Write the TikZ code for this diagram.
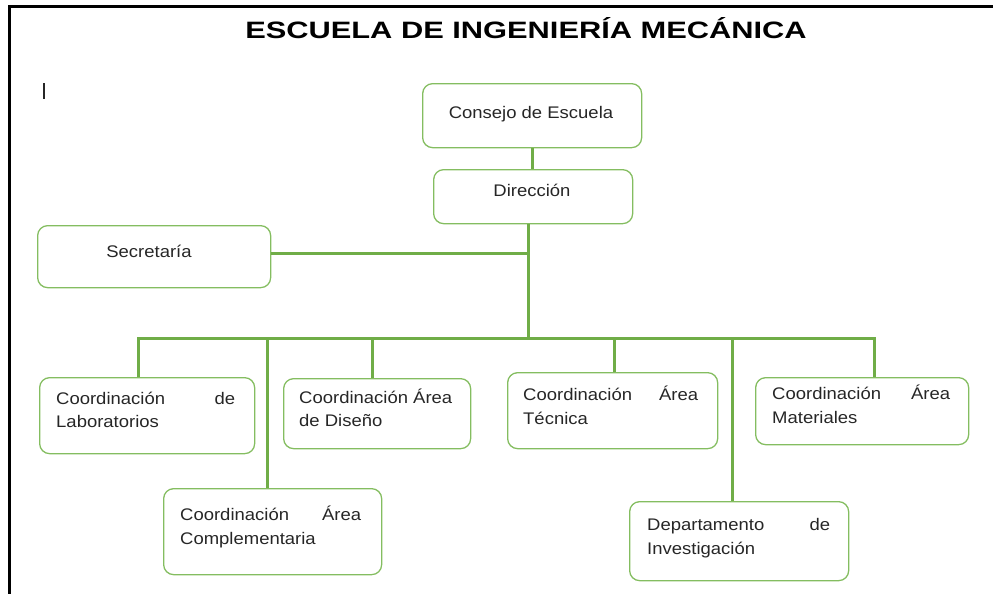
\documentclass[tikz,border=0pt]{standalone}
\usepackage{fontspec}
\setmainfont{Liberation Sans}
\newfontfamily\bodyfont[FakeStretch=1.1]{Liberation Sans}
\newfontfamily\titlefont[FakeStretch=1.3]{Liberation Sans}
\definecolor{linegreen}{HTML}{70AD47}
\definecolor{boxgreen}{HTML}{84BD60}
\definecolor{textgray}{HTML}{262626}
\begin{document}
\begin{tikzpicture}[x=1pt,y=-1pt,
  box/.style={draw=boxgreen, line width=1.3pt, rounded corners=10pt, inner sep=0pt, anchor=north west},
  txt/.style={font=\bodyfont\fontsize{16.8}{20}\selectfont, text=textgray, inner sep=0pt},
  conn/.style={draw=linegreen, line width=3pt, line join=miter}]
\useasboundingbox (0,0) rectangle (993,594);
% frame
\draw[black, line width=3pt] (9,594) -- (9,7) -- (993,7);
% title
\node[font=\titlefont\bfseries\fontsize{23.7}{28}\selectfont, text=black, anchor=base, inner sep=0pt] (title) at (526,39) {ESCUELA DE INGENIERÍA MECÁNICA};
% cursor
\draw[textgray, line width=1.2pt] (44,83) -- (44,99);
% boxes
\node[box, minimum width=219pt, minimum height=64pt] (consejo) at (422,83) {};
\node[box, minimum width=199pt, minimum height=54pt] (direccion) at (433,169) {};
\node[box, minimum width=233pt, minimum height=62pt] (secretaria) at (37,225) {};
\node[box, minimum width=215pt, minimum height=76pt] (lab) at (39,377) {};
\node[box, minimum width=187pt, minimum height=70pt] (diseno) at (283,378) {};
\node[box, minimum width=218pt, minimum height=86pt] (compl) at (163,488) {};
\node[box, minimum width=210pt, minimum height=76pt] (tecnica) at (507,372) {};
\node[box, minimum width=219pt, minimum height=79pt] (depto) at (629,501) {};
\node[box, minimum width=213pt, minimum height=67pt] (mat) at (755,377) {};
% texts
\node[txt, anchor=base] (tconsejo) at (531,118) {Consejo de Escuela};
\node[txt, anchor=base] (tdireccion) at (532,196) {Dirección};
\node[txt, anchor=base] (tsecretaria) at (149,257) {Secretaría};
\node[txt, anchor=base west] (tlab1) at (56,404) {\makebox[179pt][l]{Coordinación\hfill de}};
\node[txt, anchor=base west] (tlab2) at (56,427) {Laboratorios};
\node[txt, anchor=base west] (tdis1) at (299,403) {Coordinación Área};
\node[txt, anchor=base west] (tdis2) at (299,426) {de Diseño};
\node[txt, anchor=base west] (tcom1) at (180,520) {\makebox[181pt][l]{Coordinación\hfill Área}};
\node[txt, anchor=base west] (tcom2) at (180,544) {Complementaria};
\node[txt, anchor=base west] (ttec1) at (523,400) {\makebox[175pt][l]{Coordinación\hfill Área}};
\node[txt, anchor=base west] (ttec2) at (523,424) {Técnica};
\node[txt, anchor=base west] (tdep1) at (647,530) {\makebox[183pt][l]{Departamento\hfill de}};
\node[txt, anchor=base west] (tdep2) at (647,554) {Investigación};
\node[txt, anchor=base west] (tmat1) at (772,399) {\makebox[178pt][l]{Coordinación\hfill Área}};
\node[txt, anchor=base west] (tmat2) at (772,423) {Materiales};
% junction coordinates
\coordinate (trunk) at (528,253);
\coordinate (bus) at (528,338);
\coordinate (busL) at (138,338);
\coordinate (b2) at (267,338);
\coordinate (b3) at (372,338);
\coordinate (b4) at (614,338);
\coordinate (b5) at (732,338);
\coordinate (busR) at (874,338);
% connectors
\draw[conn] (consejo.south) -- (consejo.south |- direccion.north);
\draw[conn] (direccion.south -| bus) -- (bus);
\draw[conn] (secretaria.east |- trunk) -- (trunk);
\draw[conn] (lab.north -| busL) -- (busL) -- (busR) -- (busR |- mat.north);
\draw[conn] (b2) -- (b2 |- compl.north);
\draw[conn] (b3) -- (b3 |- diseno.north);
\draw[conn] (b4) -- (b4 |- tecnica.north);
\draw[conn] (b5) -- (b5 |- depto.north);
\end{tikzpicture}
\end{document}
